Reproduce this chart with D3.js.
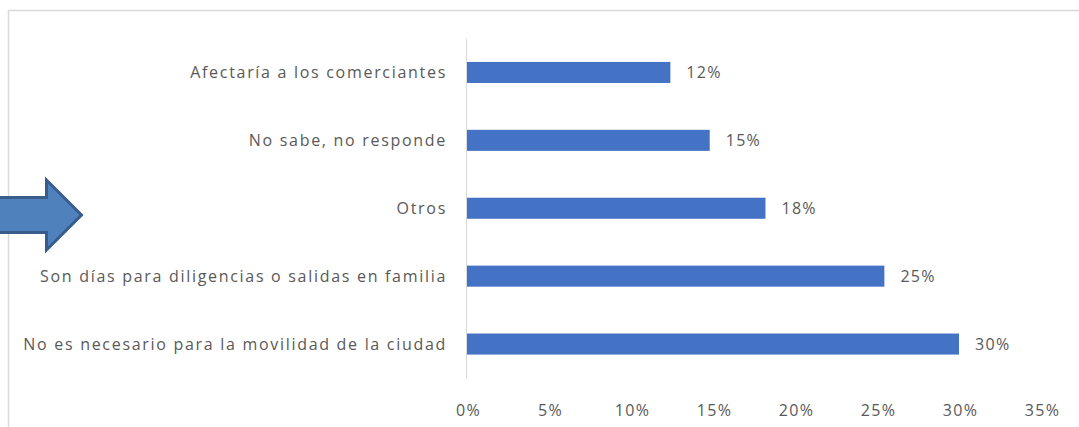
<!DOCTYPE html>
<meta charset="utf-8">
<style>
  body { margin: 0; background: #fff; }
  text { font-family: "Open Sans", "Noto Sans", sans-serif; fill: #595959; }
</style>
<svg width="1079" height="427"></svg>
<script src="https://cdn.jsdelivr.net/npm/d3@7"></script>
<script>
// datos
var categorias = [
  "Afectaría a los comerciantes",
  "No sabe, no responde",
  "Otros",
  "Son días para diligencias o salidas en familia",
  "No es necesario para la movilidad de la ciudad"
];
var valores = [0.124, 0.148, 0.182, 0.2545, 0.300];
var ticks = [0, 0.05, 0.10, 0.15, 0.20, 0.25, 0.30, 0.35];

var svg = d3.select("svg"),
    width = +svg.attr("width"),
    height = +svg.attr("height");

var x = d3.scaleLinear().domain([0, 0.35]).range([467, 1041]);
var y = d3.scaleBand().domain(categorias).range([38.5, 378]).paddingInner(0.69).paddingOuter(0.345);

var fmt = function(d) { return Math.round(d * 100 - 0.01) + "%"; };

// marco del grafico
svg.append("path")
    .attr("d", "M8.5,427 L8.5,10.5 L1079,10.5")
    .attr("fill", "none")
    .attr("stroke", "#d9d9d9")
    .attr("stroke-width", 1.5);

// eje vertical
svg.append("line")
    .attr("x1", x(0) - 0.5).attr("x2", x(0) - 0.5)
    .attr("y1", 38.5).attr("y2", 378)
    .attr("stroke", "#d9d9d9");

// barras
svg.selectAll("rect.barra")
  .data(valores)
  .join("rect")
    .attr("class", "barra")
    .attr("x", x(0))
    .attr("y", function(d, i) { return y(categorias[i]); })
    .attr("width", function(d) { return x(d) - x(0); })
    .attr("height", y.bandwidth())
    .attr("fill", "#4472c4");

// etiquetas de datos
svg.selectAll("text.valor")
  .data(valores)
  .join("text")
    .attr("class", "valor")
    .attr("x", function(d) { return x(d) + 16; })
    .attr("y", function(d, i) { return y(categorias[i]) + y.bandwidth() / 2; })
    .attr("dy", "0.35em")
    .style("font-size", "16px")
    .style("letter-spacing", "1.3px")
    .text(fmt);

// categorias
svg.selectAll("text.cat")
  .data(categorias)
  .join("text")
    .attr("class", "cat")
    .attr("x", 447)
    .attr("y", function(d) { return y(d) + y.bandwidth() / 2; })
    .attr("dy", "0.35em")
    .attr("text-anchor", "end")
    .style("font-size", "16px")
    .style("letter-spacing", "1.7px")
    .text(function(d) { return d; });

// eje x
var eje = svg.append("g")
    .attr("transform", "translate(1,402)")
    .call(d3.axisBottom(x).tickValues(ticks).tickFormat(fmt).tickSize(0));
eje.select(".domain").remove();
eje.selectAll("text")
    .style("font-size", "16px")
    .style("letter-spacing", "1.3px")
    .style("font-family", "\"Open Sans\", sans-serif")
    .attr("fill", "#595959");

// flecha
svg.append("path")
    .attr("d", "M-5,197.5 L46.5,197.5 L46.5,180 L81.5,215 L46.5,250 L46.5,232.5 L-5,232.5 Z")
    .attr("fill", "#4f81bd")
    .attr("stroke", "#385d8a")
    .attr("stroke-width", 3)
    .attr("stroke-linejoin", "miter");
</script>
